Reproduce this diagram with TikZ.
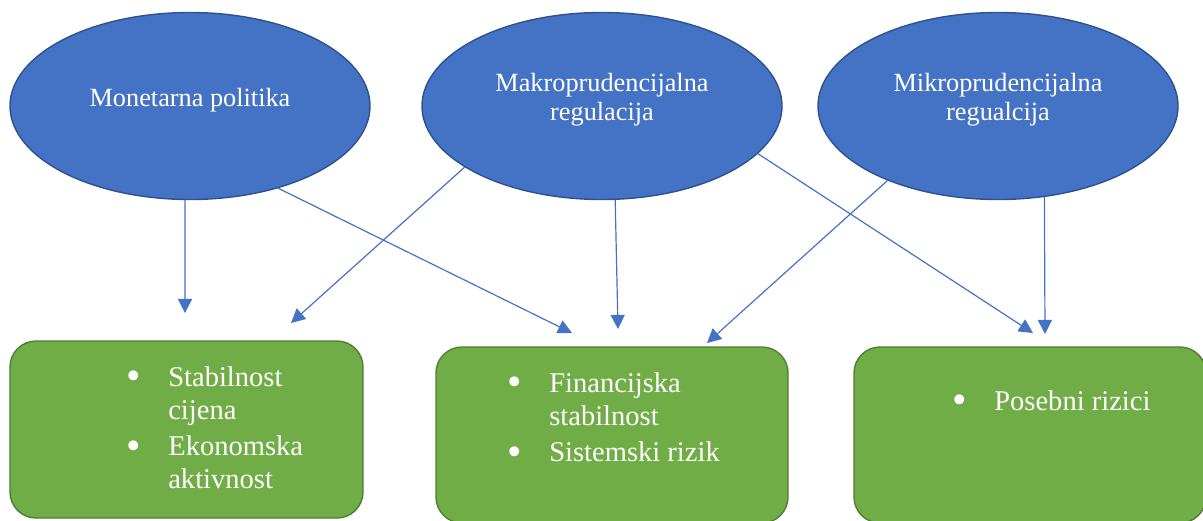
\documentclass[tikz,border=0pt]{standalone}
\usepackage{fontspec}
\setmainfont{Liberation Serif}
\usetikzlibrary{positioning,shapes.geometric,arrows.meta}
\definecolor{ovalblue}{HTML}{4472C4}
\definecolor{ovaledge}{HTML}{2F528F}
\definecolor{boxgreen}{HTML}{70AD47}
\definecolor{boxedge}{HTML}{507E32}
\tikzset{
        oval/.style={ellipse, draw=ovaledge, fill=ovalblue, line width=1pt, minimum width=90mm, minimum height=46.75mm, inner sep=0pt},
        ovaltext/.style={align=center, text=white, font=\fontsize{18.7}{20.6}\selectfont, yshift=4.5pt},
        goalbox/.style={draw=boxedge, fill=boxgreen, line width=1pt, rounded corners=6.5mm, minimum width=88mm, minimum height=44mm, inner sep=0pt},
        goallist/.style={anchor=base west, text=white, font=\fontsize{20.3}{23.5}\selectfont, inner sep=0pt},
        link/.style={draw=ovalblue, line width=0.85pt, -{Triangle[length=10pt,width=10pt]}},
    }
\newcommand{\goalitem}{\makebox[29.9pt][l]{\raisebox{-2.5pt}{\scalebox{1.45}{\textbullet}}}}

\begin{document}
\begin{tikzpicture}[x=0.25mm, y=-0.25mm]
        \useasboundingbox (0,0) rectangle (1203,520);

        % Gornji red: politike
        \node[oval] (monetarna) at (190,106) {};
        \node[oval] (makro) at (602,106) {};
        \node[oval] (mikro) at (998,106) {};
        \node[ovaltext] (monetarnatxt) at (monetarna) {Monetarna politika};
        \node[ovaltext] (makrotxt) at (makro) {Makroprudencijalna\\regulacija};
        \node[ovaltext] (mikrotxt) at (mikro) {Mikroprudencijalna\\regualcija};

        % Donji red: ciljevi
        \node[goalbox, minimum width=88.25mm, minimum height=44.25mm] (cijene) at (186.5,429.5) {};
        \node[goalbox] (financ) at (612,435) {};
        \node[goalbox] (rizici) at (1030,435) {};

        \node[goallist] (cijenelist) at (126,386) {\begin{tabular}[t]{@{}l@{}l@{}}
            \goalitem & Stabilnost\\ & cijena\\[2.5pt]
            \goalitem & Ekonomska\\ & aktivnost
        \end{tabular}};
        \node[goallist] (financlist) at (507,392) {\begin{tabular}[t]{@{}l@{}l@{}}
            \goalitem & Financijska\\ & stabilnost\\[2.5pt]
            \goalitem & Sistemski rizik
        \end{tabular}};
        \node[goallist] (rizicilist) at (952,410) {\begin{tabular}[t]{@{}l@{}l@{}}
            \goalitem & Posebni rizici
        \end{tabular}};

        % Vrhovi strelica iznad kutija
        \coordinate (t1) at (185,313);
        \coordinate (t2) at (572,333);
        \coordinate (t3) at (291,323);
        \coordinate (t4) at (618,329);
        \coordinate (t5) at (1033,333);
        \coordinate (t6) at (707,343);
        \coordinate (t7) at (1045,334);

        % Veze
        \draw[link] (monetarna.-93.5) -- (t1);
        \draw[link] (monetarna.-43.3) -- (t2);
        \draw[link] (makro.-156) -- (t3);
        \draw[link] (makro.-82.7) -- (t4);
        \draw[link] (makro.-17.4) -- (t5);
        \draw[link] (mikro.-146.7) -- (t6);
        \draw[link] (mikro.-63.9) -- (t7);

    \end{tikzpicture}
\end{document}
